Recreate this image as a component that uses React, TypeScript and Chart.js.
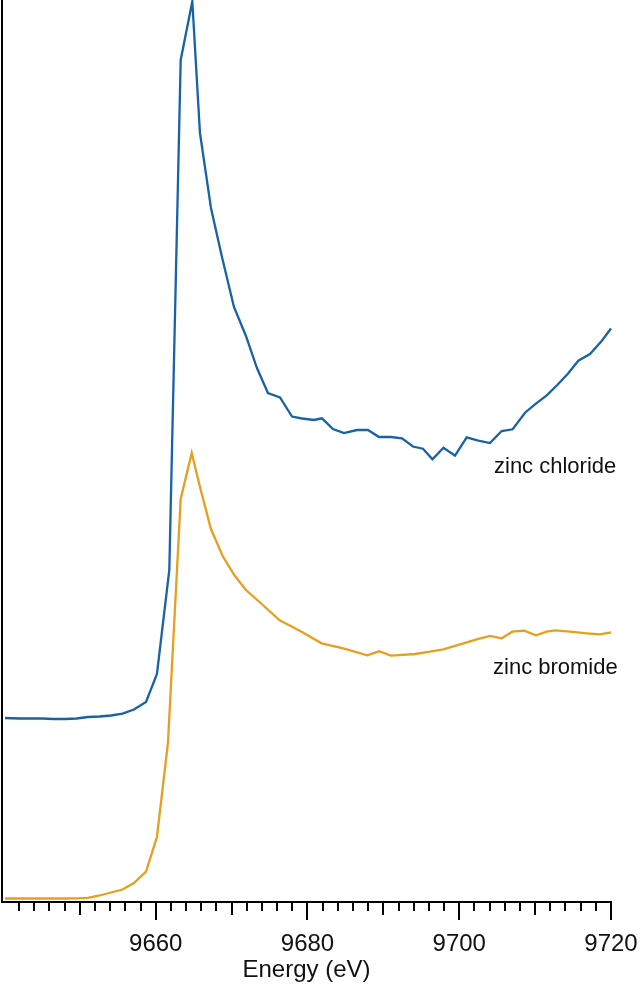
import React, { useEffect, useRef } from "react";
import { Chart, registerables } from "chart.js";

Chart.register(...registerables);

// Zinc chloride spectrum (energy in eV, normalized absorbance, offset)
const chlorideEnergy = [
  9640.13, 9641.98, 9643.49, 9645.01, 9646.52, 9648.04, 9649.56, 9651.07, 9652.59, 9654.1,
  9655.62, 9657.13, 9658.72, 9660.16, 9661.79, 9663.29, 9664.82, 9665.83, 9667.28, 9668.73,
  9670.31, 9671.89, 9673.34, 9674.79, 9676.38, 9677.96, 9679.28, 9680.86, 9681.91, 9683.36,
  9684.81, 9686.52, 9687.97, 9689.42, 9691.0, 9692.45, 9693.9, 9695.22, 9696.47, 9697.92,
  9699.44, 9700.98, 9702.51, 9704.05, 9705.59, 9707.04, 9708.67, 9709.98, 9711.53, 9712.92,
  9714.37, 9715.69, 9717.23, 9718.77, 9720.0,
];
const chlorideAbs = [
  0.6133, 0.6117, 0.6117, 0.6117, 0.61, 0.61, 0.6117, 0.6167, 0.6183, 0.6217,
  0.6283, 0.6417, 0.6667, 0.76, 1.1067, 2.8067, 3.0017, 2.5633, 2.3133, 2.15,
  1.9833, 1.8867, 1.78, 1.6967, 1.6817, 1.6183, 1.6117, 1.6067, 1.6123, 1.5767,
  1.5633, 1.5733, 1.5733, 1.55, 1.55, 1.5457, 1.5183, 1.511, 1.4757, 1.5143,
  1.4877, 1.549, 1.5377, 1.53, 1.57, 1.5757, 1.631, 1.659, 1.689, 1.7233,
  1.7623, 1.8043, 1.8267, 1.87, 1.9117,
];

// Zinc bromide spectrum
const bromideEnergy = [
  9640.13, 9641.98, 9643.49, 9645.01, 9646.52, 9648.04, 9649.56, 9651.07, 9652.59, 9654.1,
  9655.62, 9657.13, 9658.72, 9660.16, 9661.61, 9663.29, 9664.74, 9665.83, 9667.28, 9668.82,
  9670.35, 9671.89, 9673.38, 9674.83, 9676.38, 9677.92, 9679.45, 9681.87, 9684.72, 9687.88,
  9689.42, 9691.0, 9694.17, 9696.15, 9697.9, 9700.53, 9702.3, 9704.05, 9705.59, 9706.99,
  9708.57, 9710.11, 9711.53, 9712.62, 9714.6, 9716.8, 9718.55, 9720.0,
];
const bromideAbs = [
  0.0117, 0.0117, 0.0117, 0.0117, 0.0117, 0.0117, 0.0123, 0.014, 0.0217, 0.0317,
  0.0417, 0.0633, 0.101, 0.2167, 0.53, 1.3433, 1.4967, 1.3833, 1.2433, 1.1533,
  1.09, 1.04, 1.0067, 0.9733, 0.9383, 0.9183, 0.8977, 0.8623, 0.8457, 0.8223,
  0.8357, 0.821, 0.8267, 0.8343, 0.8423, 0.8623, 0.8757, 0.8867, 0.879, 0.901,
  0.9043, 0.889, 0.901, 0.9057, 0.901, 0.8957, 0.8923, 0.899,
];

const majorTickValues = [9660, 9680, 9700, 9720];
const seriesNames = ["zinc chloride", "zinc bromide"];
const labelAnchorsX = [9704.58, 9704.45];
const labelAnchorsY = [1.43, 0.76];

const FONT = '"Liberation Sans", Arial, Helvetica, sans-serif';
const BLUE = "rgb(24,98,166)";
const ORANGE = "rgb(232,158,30)";

export default function App() {
  const ref = useRef<HTMLCanvasElement | null>(null);

  useEffect(() => {
    document.body.style.margin = "0";
    const canvas = ref.current;
    if (!canvas) return;

    const tickPlugin = {
      id: "customTicks",
      afterDraw(chart: any) {
        const { ctx } = chart;
        const xs = chart.scales.x;
        const ys = chart.scales.y;
        const bottom = chart.chartArea.bottom;
        ctx.save();
        ctx.strokeStyle = "#000";
        ctx.lineWidth = 2;
        for (const t of xs.ticks) {
          const v = t.value;
          if (Math.abs(v / 2 - Math.round(v / 2)) > 1e-6) continue;
          if (v < 9641) continue;
          const r = Math.round(v);
          const len = majorTickValues.includes(r) ? 18 : r % 10 === 0 ? 13 : 9;
          const px = Math.round(xs.getPixelForValue(v));
          ctx.beginPath();
          ctx.moveTo(px, bottom);
          ctx.lineTo(px, bottom + len);
          ctx.stroke();
        }
        ctx.fillStyle = "#111";
        ctx.font = `22px ${FONT}`;
        ctx.textAlign = "left";
        ctx.textBaseline = "alphabetic";
        seriesNames.forEach((name, i) => {
          ctx.fillText(
            name,
            xs.getPixelForValue(labelAnchorsX[i]),
            ys.getPixelForValue(labelAnchorsY[i])
          );
        });
        ctx.restore();
      },
    };

    const chart = new Chart(canvas, {
      type: "line",
      data: {
        datasets: [
          {
            label: seriesNames[0],
            data: chlorideEnergy.map((x, i) => ({ x, y: chlorideAbs[i] })),
            borderColor: BLUE,
            borderWidth: 2.3,
            pointRadius: 0,
            tension: 0,
            clip: false as any,
          },
          {
            label: seriesNames[1],
            data: bromideEnergy.map((x, i) => ({ x, y: bromideAbs[i] })),
            borderColor: ORANGE,
            borderWidth: 2.3,
            pointRadius: 0,
            tension: 0,
            clip: false as any,
          },
        ],
      },
      options: {
        animation: false,
        responsive: false,
        devicePixelRatio: 1,
        layout: { padding: { left: 0, right: 29, top: 0, bottom: 0 } },
        plugins: {
          legend: { display: false },
          tooltip: { enabled: false },
        },
        scales: {
          x: {
            type: "linear",
            min: 9639.74,
            max: 9720,
            grid: { display: false, drawTicks: true, tickLength: 28 },
            border: { display: true, color: "#000", width: 2 },
            ticks: {
              stepSize: 2,
              autoSkip: false,
              maxRotation: 0,
              padding: 0,
              color: "#111",
              font: { family: FONT, size: 24 },
              callback: (v: any) =>
                majorTickValues.includes(Math.round(Number(v))) &&
                Math.abs(Number(v) - Math.round(Number(v))) < 1e-6
                  ? String(Math.round(Number(v)))
                  : "",
            },
            title: {
              display: true,
              text: "Energy (eV)",
              color: "#111",
              font: { family: FONT, size: 24 },
              padding: { top: 0, bottom: 0 },
            },
            afterFit: (s: any) => {
              s.height = 83;
            },
          },
          y: {
            type: "linear",
            min: 0,
            max: 3.0067,
            grid: { display: false, drawTicks: false },
            border: { display: true, color: "#000", width: 2 },
            ticks: { display: false },
            afterFit: (s: any) => {
              s.width = 2;
            },
          },
        },
      },
      plugins: [tickPlugin],
    });

    return () => chart.destroy();
  }, []);

  return (
    <div style={{ width: 640, height: 985 }}>
      <canvas ref={ref} width={640} height={985} style={{ display: "block", width: 640, height: 985 }} />
    </div>
  );
}
